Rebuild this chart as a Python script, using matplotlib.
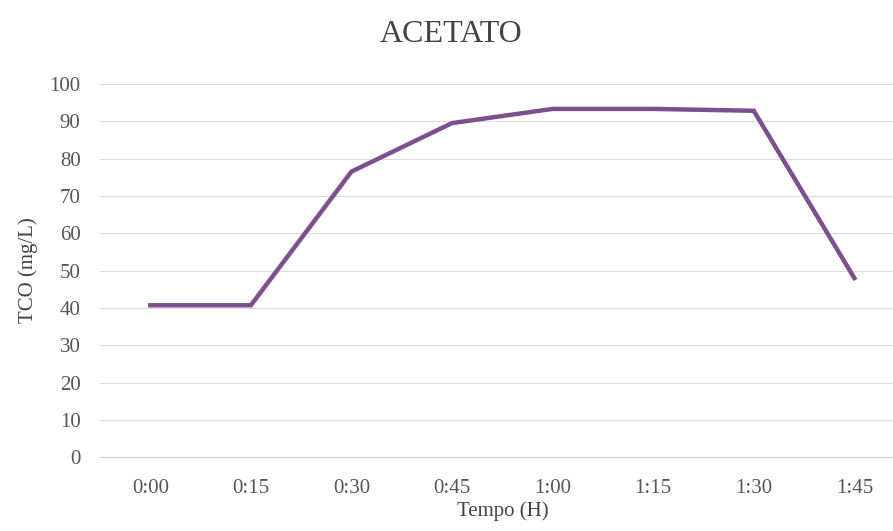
import matplotlib.pyplot as plt

# TCO over time, acetate run
tempo = ['0:00', '0:15', '0:30', '0:45', '1:00', '1:15', '1:30', '1:45']
tco = [40.7, 40.7, 76.5, 89.5, 93.3, 93.3, 92.8, 48.0]

plt.rcParams['font.family'] = ['Liberation Serif', 'DejaVu Serif']

fig = plt.figure(figsize=(8.93, 5.31), dpi=100)
ax = fig.add_axes([0.112, 0.139, 0.901, 0.703])

x = range(len(tempo))
ax.plot(x, tco, color='#7d4f8c', linewidth=3.2, solid_joinstyle='miter')

ax.set_xlim(-0.5, len(tempo) - 0.5)
ax.set_ylim(0, 100)
ax.set_yticks(range(0, 101, 10))
ax.set_xticks(list(x))
ax.set_xticklabels(tempo)

ax.grid(axis='y', color='#dcdcdc', linewidth=0.8)
ax.axhline(0, color='#d0d0d0', linewidth=0.8, clip_on=False, zorder=0)
ax.set_axisbelow(True)
for s in ax.spines.values():
    s.set_visible(False)
ax.tick_params(length=0, labelsize=15, colors='#555555')
ax.tick_params(axis='x', pad=16)
ax.tick_params(axis='y', pad=14)

fig.text(0.505, 1 - 34 / 531, 'ACETATO', fontsize=23, color='#444444',
         ha='center', va='center')
ax.set_xlabel('Tempo (H)', fontsize=15, color='#444444', labelpad=2)
ax.set_ylabel('TCO (mg/L)', fontsize=15, color='#444444', labelpad=8)

fig.savefig('out.png', dpi=100)
